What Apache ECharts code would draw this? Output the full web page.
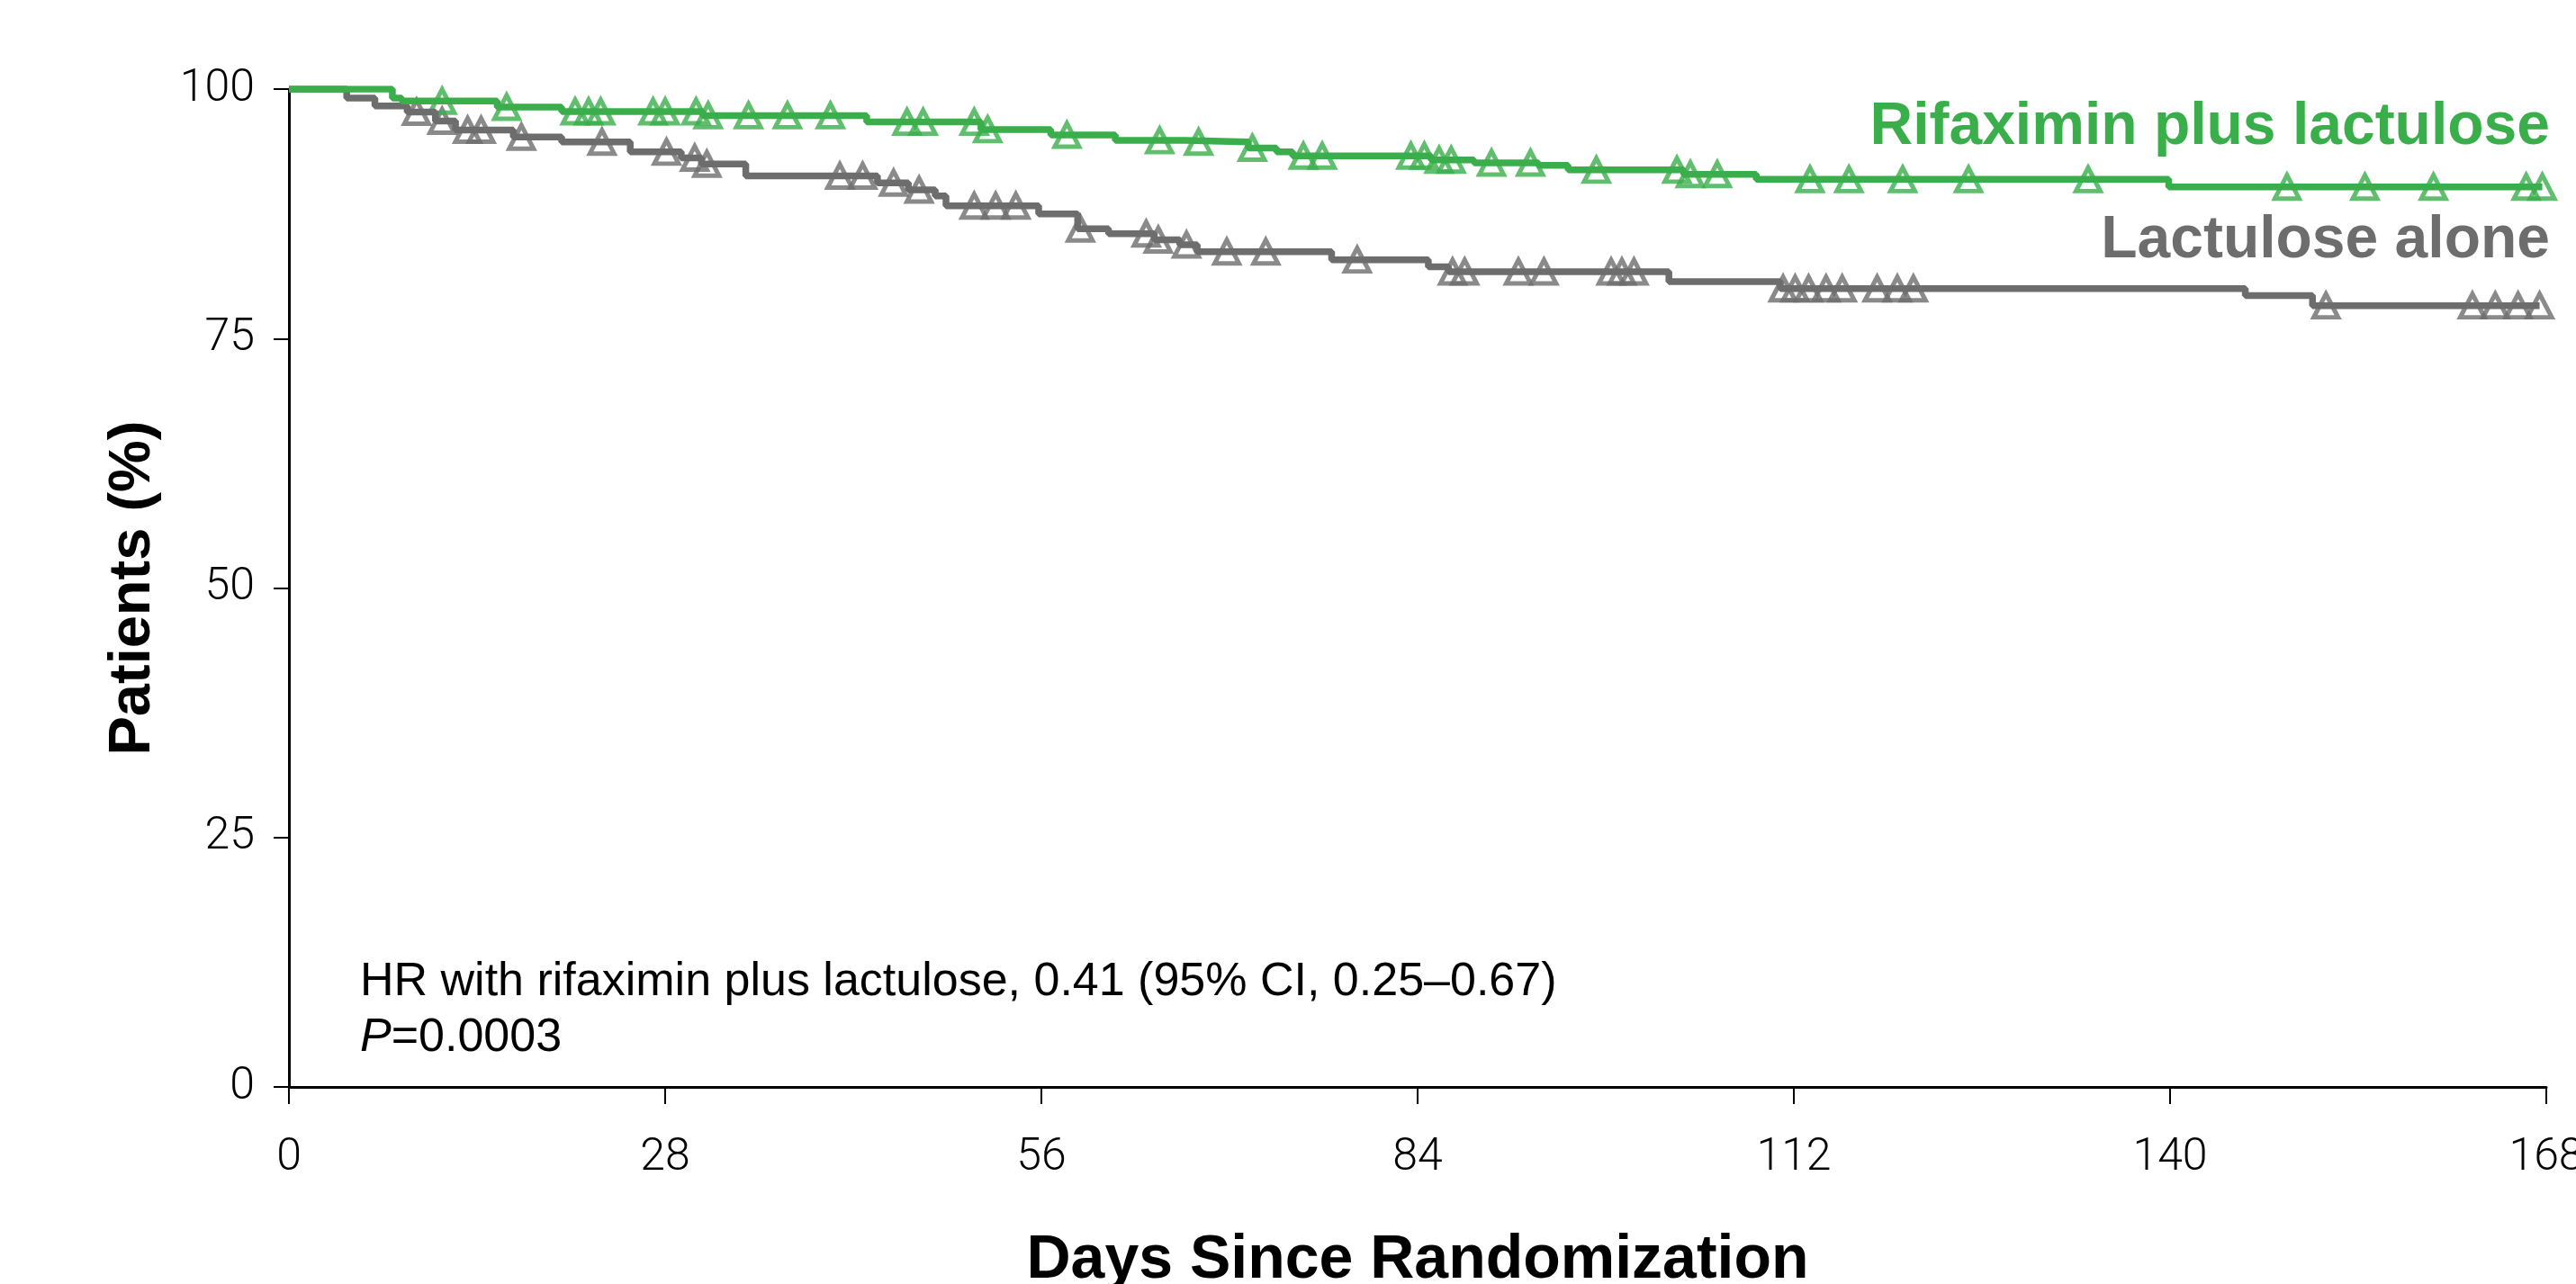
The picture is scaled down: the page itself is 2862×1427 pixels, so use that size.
<!DOCTYPE html>
<html>
<head>
<meta charset="utf-8">
<script src="https://cdn.jsdelivr.net/npm/echarts@6/dist/echarts.min.js"></script>
<style>
  html, body { margin: 0; padding: 0; background: #fff; overflow: hidden; }
  #chart { width: 2862px; height: 1427px; }
</style>
</head>
<body>
<div id="chart"></div>
<script>
// Kaplan-Meier steps (day, % of patients)
const rifaxTimes = [0, 7.7, 8.4, 15.5, 20.3, 30.8, 43.0, 51.5, 56.7, 61.5, 66.7, 71.4, 73.5, 74.7, 85.0, 88.2, 93.0, 95.2, 103.8, 109.2, 139.9, 167.7];
const rifaxSurv = [100, 99.1, 98.8, 98.2, 97.75, 97.35, 96.7, 95.95, 95.4, 94.85, 94.7, 94.1, 93.7, 93.3, 92.9, 92.6, 92.35, 91.9, 91.45, 90.95, 90.2, 90.2];
const rifaxCensor = [11.4, 16.2, 21.3, 22.3, 23.2, 27.1, 28.0, 30.3, 31.2, 34.2, 37.1, 40.3, 46.0, 47.2, 51.0, 52.0, 57.9, 64.8, 67.7, 71.7, 75.5, 76.9, 83.5, 84.5, 85.6, 86.5, 89.5, 92.4, 97.3, 103.3, 104.3, 106.3, 113.2, 116.1, 120.1, 125.0, 133.9, 148.7, 154.5, 159.6, 166.5, 167.7];

const lactTimes = [0, 4.3, 6.4, 8.8, 10.9, 12.4, 16.7, 20.3, 25.4, 29.2, 30.7, 34.0, 43.8, 46.1, 48.1, 48.9, 55.8, 58.7, 61.0, 64.4, 66.3, 67.6, 77.6, 84.8, 86.3, 102.7, 111.0, 145.6, 150.6, 167.5];
const lactSurv = [100, 99.1, 98.3, 97.7, 96.8, 95.9, 95.2, 94.7, 93.7, 93.1, 92.5, 91.3, 90.6, 89.9, 89.3, 88.3, 87.5, 86.0, 85.5, 84.9, 84.4, 83.7, 82.9, 82.2, 81.7, 80.7, 80.0, 79.3, 78.3, 78.3];
const lactCensor = [9.5, 11.4, 13.3, 14.3, 17.3, 23.3, 28.1, 30.2, 31.1, 41.0, 42.7, 45.0, 46.9, 51.0, 52.6, 54.1, 58.9, 63.8, 64.7, 66.8, 69.8, 72.7, 79.5, 86.6, 87.5, 91.5, 93.4, 98.4, 99.2, 100.1, 111.2, 112.1, 113.1, 114.4, 115.6, 118.2, 119.7, 120.9, 151.6, 162.5, 164.2, 165.9, 167.5];

const GREEN = '#39ae4a';
const GREY = '#6d6d6d';

// value of the step curve at time t
function survAt(times, surv, t) {
    let v = surv[0];
    for (let i = 0; i < times.length; i++) {
        if (times[i] <= t) v = surv[i];
    }
    return v;
}

const pairs = (xs, ys) => xs.map((x, i) => [x, ys[i]]);
const marks = (cens, times, surv) => cens.map(t => [t, survAt(times, surv, t)]);

const chart = echarts.init(document.getElementById('chart'));

const tickFont = { fontFamily: 'Roboto', fontWeight: 300, fontSize: 50, color: '#000' };

const lineSeries = (name, color, data) => ({
    name: name,
    type: 'line',
    step: 'end',
    data: data,
    symbol: 'none',
    lineStyle: { color: color, width: 7.5 },
    silent: true
});

const censorSeries = (name, color, data) => ({
    name: name,
    type: 'scatter',
    data: data,
    symbol: 'triangle',
    symbolSize: [27, 26],
    itemStyle: { color: 'rgba(0,0,0,0)', borderColor: color, borderWidth: 5 },
    silent: true
});

const option = {
    animation: false,
    backgroundColor: '#fff',
    grid: { left: 321, right: 33, top: 99, bottom: 219, containLabel: false, outerBoundsMode: 'none' },
    xAxis: {
        type: 'value',
        min: 0,
        max: 168,
        interval: 28,
        name: 'Days Since Randomization',
        nameLocation: 'middle',
        nameGap: 159,
        nameTextStyle: { fontFamily: 'Liberation Sans', fontWeight: 'bold', fontSize: 68, color: '#000' },
        axisLine: { lineStyle: { color: '#000', width: 3 } },
        axisTick: { show: true, length: 19, lineStyle: { color: '#000', width: 2 } },
        axisLabel: Object.assign({ margin: 54, hideOverlap: false, showMaxLabel: true }, tickFont),
        splitLine: { show: false }
    },
    yAxis: {
        type: 'value',
        min: 0,
        max: 100,
        interval: 25,
        name: 'Patients (%)',
        nameLocation: 'middle',
        nameGap: 140,
        nameTextStyle: { fontFamily: 'Liberation Sans', fontWeight: 'bold', fontSize: 65, color: '#000' },
        axisLine: { show: true, lineStyle: { color: '#000', width: 3 } },
        axisTick: { show: true, length: 17, lineStyle: { color: '#000', width: 2 } },
        axisLabel: Object.assign({ margin: 38 }, tickFont),
        splitLine: { show: false }
    },
    series: [
        lineSeries('Lactulose alone', GREY, pairs(lactTimes, lactSurv)),
        censorSeries('Lactulose alone censored', GREY, marks(lactCensor, lactTimes, lactSurv)),
        lineSeries('Rifaximin plus lactulose', GREEN, pairs(rifaxTimes, rifaxSurv)),
        censorSeries('Rifaximin plus lactulose censored', GREEN, marks(rifaxCensor, rifaxTimes, rifaxSurv))
    ],
    graphic: [
        {
            type: 'text', right: 29, top: 109,
            style: { text: 'Rifaximin plus lactulose', fill: GREEN, font: 'bold 66px "Liberation Sans"' }
        },
        {
            type: 'text', right: 29, top: 235,
            style: { text: 'Lactulose alone', fill: GREY, font: 'bold 66px "Liberation Sans"' }
        },
        {
            type: 'text', left: 400, top: 1061,
            style: {
                text: 'HR with rifaximin plus lactulose, 0.41 (95% CI, 0.25–0.67)\n{i|P}=0.0003',
                fill: '#000',
                font: '52px "Liberation Sans"',
                lineHeight: 62,
                rich: { i: { fontStyle: 'italic', fontFamily: 'Liberation Sans', fontSize: 52 } }
            }
        }
    ]
};

chart.setOption(option);
</script>
</body>
</html>
